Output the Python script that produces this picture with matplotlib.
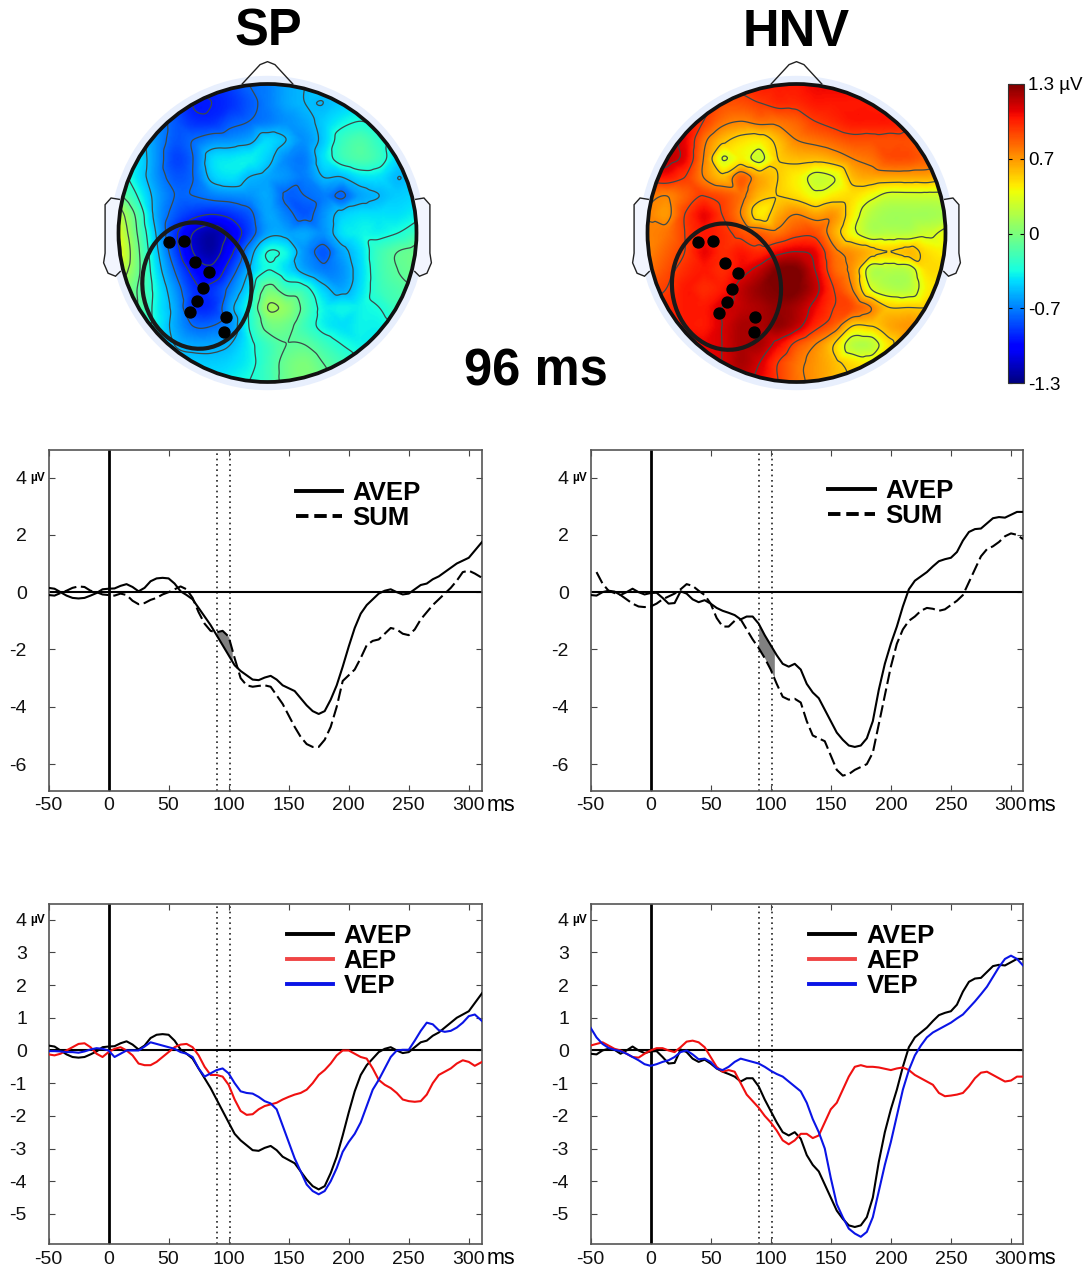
#!/usr/bin/env python3

import numpy as np
import matplotlib
matplotlib.use("Agg")
import matplotlib.pyplot as plt
import matplotlib.tri as mtri
from matplotlib.lines import Line2D
from matplotlib.patches import Circle, Ellipse, Polygon
from matplotlib.cm import ScalarMappable
from matplotlib.colors import Normalize

plt.rcParams["font.family"] = ["Liberation Sans", "DejaVu Sans"]
plt.rcParams["axes.unicode_minus"] = False

W, H = 1091, 1270

# ---- waveforms (uV), 5 ms steps
t_sp = list(range(-50, 310, 5)) + [311]
t_hnv = list(range(-50, 315, 5))

sp_avep = [.15, .12, 0, -.12, -.2, -.22, -.2, -.12, -.03, .1, .12, .13, .22, .28, .18, .03, .15, .38, .48, .5,
           .48, .3, .03, -.1, -.25, -.55, -.85, -1.15, -1.5, -1.85, -2.2, -2.55, -2.75, -2.9, -3.05, -3.07,
           -2.98, -2.92, -3.05, -3.25, -3.35, -3.45, -3.7, -3.95, -4.15, -4.25, -4.15, -3.75, -3.25, -2.6,
           -1.9, -1.25, -.75, -.45, -.25, -.05, .05, .1, 0, -.08, -.05, .1, .25, .3, .45, .55, .7, .85, 1.0,
           1.1, 1.2, 1.45, 1.75]
sp_sum = [-.1, -.12, -.03, .05, .15, .2, .18, .05, 0, -.08, -.1, -.12, -.05, -.1, -.3, -.42, -.38, -.27, -.2,
          -.08, 0, .1, .2, .1, -.2, -.7, -1.1, -1.35, -1.4, -1.35, -1.55, -2.3, -3.0, -3.25, -3.3, -3.27,
          -3.25, -3.3, -3.6, -3.9, -4.3, -4.7, -5.05, -5.3, -5.4, -5.4, -5.15, -4.7, -4.0, -3.1, -2.9, -2.7,
          -2.3, -1.85, -1.7, -1.65, -1.45, -1.25, -1.3, -1.45, -1.5, -1.3, -.95, -.7, -.45, -.25, -.05, .15,
          .4, .7, .75, .65, .5]
sp_aep = [-.12, -.15, -.1, 0, .1, .2, .22, .1, -.1, -.2, -.05, .05, .1, 0, -.15, -.4, -.45, -.45, -.35, -.2,
          -.05, .1, .18, .2, .1, -.15, -.5, -.75, -.75, -.8, -1.05, -1.5, -1.85, -1.97, -1.95, -1.8, -1.7,
          -1.65, -1.6, -1.5, -1.42, -1.35, -1.3, -1.2, -1.0, -.75, -.6, -.4, -.15, 0, 0, -.1, -.2, -.25,
          -.55, -.9, -1.05, -1.15, -1.3, -1.5, -1.55, -1.57, -1.55, -1.35, -1.0, -.75, -.65, -.55, -.4, -.3,
          -.35, -.47, -.35]
sp_vep = [-.02, -.02, -.03, -.05, -.05, -.07, -.03, .03, .07, .05, 0, -.2, -.1, 0, 0, 0, .12, .25, .2, .15,
          .1, .05, -.05, -.1, -.2, -.55, -.8, -.7, -.6, -.55, -.7, -1.0, -1.25, -1.3, -1.32, -1.42, -1.55,
          -1.62, -1.8, -2.3, -2.8, -3.3, -3.7, -4.1, -4.3, -4.4, -4.3, -4.0, -3.6, -3.1, -2.8, -2.55, -2.2,
          -1.7, -1.2, -.9, -.55, -.2, 0, .02, .02, .3, .6, .85, .8, .62, .57, .6, .7, .85, 1.05, 1.1, .9]

hnv_avep = [-.1, -.12, 0, .05, .02, -.1, 0, .12, 0, -.08, -.03, -.02, -.2, -.4, -.38, .03, -.05, -.25, -.35,
            -.28, -.4, -.55, -.65, -.72, -.8, -.95, -.85, -.85, -1.1, -1.5, -1.85, -2.2, -2.5, -2.6, -2.5,
            -2.7, -3.2, -3.5, -3.7, -4.1, -4.5, -4.9, -5.15, -5.35, -5.4, -5.35, -5.1, -4.5, -3.4, -2.5, -1.8,
            -1.2, -.5, .1, .4, .55, .7, .9, 1.08, 1.15, 1.2, 1.4, 1.8, 2.1, 2.2, 2.22, 2.4, 2.58, 2.62, 2.6,
            2.7, 2.8, 2.8]
hnv_sum = [np.nan, .7, .3, .05, -.03, -.1, -.25, -.4, -.5, -.52, -.5, -.4, -.25, -.15, -.05, .1, .28, .22,
           .05, -.1, -.4, -.9, -1.2, -1.2, -1.0, -.95, -1.3, -1.65, -1.95, -2.3, -2.7, -3.2, -3.65, -3.75,
           -3.72, -3.85, -4.5, -5.0, -5.1, -5.2, -5.7, -6.2, -6.4, -6.35, -6.2, -6.1, -6.0, -5.6, -4.6, -3.6,
           -2.6, -1.8, -1.3, -1.0, -.85, -.65, -.55, -.58, -.65, -.6, -.45, -.3, -.1, .35, .8, 1.25, 1.5, 1.6,
           1.75, 1.95, 2.05, 2.0, 1.85]
hnv_aep = [.15, .2, .25, .15, .05, 0, -.1, -.2, -.22, -.1, 0, .07, .07, 0, -.05, .1, .27, .3, .25, .1, -.2,
           -.5, -.65, -.6, -.65, -1.0, -1.35, -1.55, -1.75, -2.0, -2.2, -2.45, -2.75, -2.87, -2.75, -2.55,
           -2.55, -2.68, -2.6, -2.2, -1.8, -1.6, -1.2, -.8, -.5, -.45, -.5, -.5, -.52, -.56, -.6, -.55, -.52,
           -.6, -.75, -.85, -.95, -1.05, -1.3, -1.4, -1.38, -1.35, -1.3, -1.1, -.85, -.68, -.65, -.75, -.85,
           -.95, -.92, -.8, -.8]
hnv_vep = [.7, .4, .2, .08, .02, -.02, -.1, -.2, -.3, -.42, -.47, -.42, -.35, -.3, -.2, -.05, 0, -.12, -.27,
           -.25, -.35, -.55, -.6, -.5, -.35, -.25, -.3, -.35, -.4, -.5, -.62, -.72, -.8, -.95, -1.1, -1.25,
           -1.6, -2.1, -2.5, -3.0, -3.9, -4.7, -5.1, -5.45, -5.6, -5.7, -5.55, -5.1, -4.3, -3.5, -2.8, -2.0,
           -1.2, -.6, -.15, .15, .4, .55, .65, .75, .85, .98, 1.1, 1.3, 1.5, 1.72, 1.95, 2.25, 2.55, 2.8, 2.9,
           2.8, 2.6]

# ---- scalp maps (uV), rows top to bottom, x and y from -1 to 1
topo_sp = np.array([
    [-.5, -.5, -.6, -.7, -.8, -.85, -.8, -.7, -.65, -.55, -.5, -.45, -.45, -.45, -.45, -.45, -.45],
    [-.5, -.55, -.6, -.75, -.9, -.9, -.85, -.75, -.65, -.55, -.5, -.5, -.45, -.42, -.42, -.42, -.42],
    [-.4, -.5, -.6, -.75, -.85, -.85, -.75, -.7, -.65, -.6, -.55, -.45, -.35, -.3, -.35, -.4, -.4],
    [-.35, -.45, -.6, -.75, -.7, -.62, -.6, -.55, -.42, -.5, -.6, -.45, -.22, -.15, -.25, -.4, -.4],
    [-.3, -.4, -.6, -.8, -.7, -.42, -.38, -.36, -.45, -.62, -.65, -.4, -.22, -.15, -.22, -.42, -.4],
    [-.2, -.4, -.6, -.75, -.7, -.46, -.4, -.5, -.55, -.6, -.65, -.5, -.5, -.4, -.4, -.5, -.45],
    [-.05, -.3, -.55, -.7, -.7, -.65, -.62, -.6, -.55, -.72, -.7, -.65, -.72, -.55, -.5, -.45, -.42],
    [.2, -.15, -.55, -.75, -.85, -.9, -.85, -.75, -.55, -.65, -.75, -.6, -.45, -.4, -.4, -.4, -.35],
    [.3, -.1, -.5, -.85, -1.1, -1.2, -1.05, -.8, -.55, -.55, -.55, -.6, -.4, -.35, -.35, -.3, -.2],
    [.35, -.05, -.45, -.8, -1.1, -1.2, -.95, -.6, -.3, -.35, -.6, -.75, -.55, -.4, -.2, -.1, -.05],
    [.25, -.05, -.4, -.7, -.95, -1.05, -.8, -.5, -.3, -.4, -.55, -.65, -.6, -.42, -.2, -.1, -.05],
    [.1, -.1, -.35, -.6, -.85, -.85, -.65, -.4, -.05, -.2, -.25, -.45, -.55, -.4, -.22, -.15, -.1],
    [0, -.1, -.35, -.55, -.85, -.85, -.55, -.3, .1, .05, -.15, -.35, -.35, -.35, -.3, -.2, -.2],
    [-.1, -.2, -.35, -.55, -.7, -.7, -.6, -.3, -.05, -.05, -.2, -.35, -.4, -.35, -.35, -.3, -.3],
    [-.2, -.3, -.4, -.5, -.55, -.55, -.5, -.35, -.2, -.1, -.1, -.2, -.3, -.35, -.35, -.35, -.3],
    [-.3, -.35, -.4, -.45, -.45, -.45, -.42, -.35, -.2, -.05, 0, -.1, -.2, -.3, -.35, -.35, -.3],
    [-.3, -.35, -.4, -.42, -.42, -.4, -.35, -.3, -.2, -.05, 0, -.05, -.15, -.3, -.3, -.3, -.3],
])
topo_hnv = np.array([
    [.95, .95, .95, .95, .95, .95, 1, 1, 1, 1.05, 1.05, 1.05, 1.05, 1.0, .95, .95, .9],
    [.95, 1, 1, .95, .85, .85, .9, .95, .95, 1, 1, 1, 1.0, .95, .95, .9, .9],
    [1.1, 1.1, 1.0, .9, .75, .7, .75, .75, .8, .9, .95, 1, 1, 1, .95, .9, .85],
    [1.15, 1.1, 1.05, .75, .55, .45, .42, .55, .7, .75, .8, .85, .85, .85, .85, .8, .8],
    [1.15, 1.15, 1.05, .7, .3, .4, .25, .5, .55, .55, .6, .7, .75, .85, .85, .8, .75],
    [1.0, 1.0, .9, .7, .55, .8, .6, .5, .4, .25, .3, .55, .6, .6, .6, .6, .55],
    [.75, .7, .8, .9, .85, .75, .55, .5, .45, .35, .42, .45, .35, .25, .25, .25, .25],
    [.7, .65, .9, 1.05, .9, .7, .42, .6, .7, .62, .65, .4, .18, .12, .12, .12, .15],
    [.7, .75, .9, 1.0, .95, .85, .8, .75, .85, .85, .6, .35, .18, .18, .18, .25, .35],
    [.7, .8, .9, 1.05, .95, 1.0, .95, 1.05, 1.1, 1.05, .75, .65, .55, .5, .55, .45, .4],
    [.75, .85, .95, 1.0, .95, 1.05, 1.15, 1.3, 1.3, 1.1, .8, .65, .2, .18, .2, .45, .45],
    [.85, .9, 1.0, .95, 1.0, 1.15, 1.25, 1.3, 1.3, 1.15, .9, .7, .3, .18, .18, .4, .45],
    [.95, .95, 1.0, 1.0, 1.1, 1.15, 1.2, 1.25, 1.2, 1.05, .9, .85, .7, .5, .5, .5, .5],
    [1, 1, 1, 1.0, 1.1, 1.2, 1.2, 1.25, 1.15, .95, .8, .5, .5, .6, .65, .6, .6],
    [1, 1, 1, 1.05, 1.1, 1.2, 1.2, 1.05, .85, .7, .5, .2, .2, .45, .65, .6, .6],
    [1, 1, 1, 1.05, 1.1, 1.2, 1.1, .9, .75, .65, .55, .45, .4, .5, .55, .55, .55],
    [1, 1, 1, 1.05, 1.1, 1.15, 1.05, .9, .75, .65, .55, .5, .5, .5, .55, .55, .55],
])

dots_sp_x = [-.662, -.562, -.485, -.394, -.432, -.47, -.523, -.28, -.289]
dots_sp_y = [-.058, -.054, -.195, -.264, -.371, -.456, -.532, -.562, -.662]
dots_hnv_x = [-.66, -.562, -.483, -.394, -.43, -.468, -.523, -.277, -.286]
dots_hnv_y = [-.06, -.056, -.201, -.271, -.376, -.463, -.537, -.566, -.667]

nose_x = [-.17, -.05, 0, .05, .17]
nose_y = [1.0, 1.13, 1.15, 1.13, 1.0]
ear_x = [-.99, -1.05, -1.09, -1.09, -1.10, -1.07, -1.02, -.985]
ear_y = [.225, .235, .19, -.135, -.2, -.27, -.29, -.255]

cbar_ticks = [-1.3, -.65, 0, .65, 1.3]
cbar_labels = ["-1.3", "-0.7", "0", "0.7", "1.3 µV"]
x_ticks = [-50, 0, 50, 100, 150, 200, 250, 300]
win_start, win_end = 90, 101


def px_axes(fig, left, top, right, bottom):
    return fig.add_axes([left / W, 1 - bottom / H, (right - left) / W, (bottom - top) / H])


def head(fig, cx, cy, z, dots_x, dots_y, ell_xy):
    half = 186
    ax = px_axes(fig, cx - half, cy - half, cx + half, cy + half)
    ax.axis("off")
    ax.patch.set_alpha(0)

    ax.add_patch(Circle((0, 0), 1.055, fc="#e8effd", ec="none", zorder=0))
    for sign in (-1, 1):
        pts = np.column_stack([sign * np.array(ear_x), ear_y])
        ax.add_patch(Polygon(pts, closed=False, fc="#f2f5fe", ec="#222222", lw=1.0, zorder=1))
    ax.plot(nose_x, nose_y, color="#222222", lw=1.0, zorder=1)

    # smooth the coarse grid for the image and the contours
    g = np.linspace(-1, 1, z.shape[0])
    gx, gy = np.meshgrid(g, g[::-1])
    tri = mtri.Triangulation(gx.ravel(), gy.ravel())
    interp = mtri.CubicTriInterpolator(tri, z.ravel(), kind="geom")
    f = np.linspace(-1, 1, 240)
    fx, fy = np.meshgrid(f, f)
    fz = np.ma.filled(interp(fx, fy), np.nan)

    clip = Circle((0, 0), 1.0, transform=ax.transData)
    im = ax.imshow(fz, origin="lower", extent=(-1, 1, -1, 1), cmap="jet", vmin=-1.3, vmax=1.3,
                   interpolation="bilinear", zorder=2)
    im.set_clip_path(clip)
    cs = ax.contour(fx, fy, fz, levels=np.arange(-1.3, 1.3, .2), colors="#3c4a4a", linewidths=.9,
                    linestyles="solid", zorder=3)
    cs.set_clip_path(clip)
    ax.set_xlim(-half / 149, half / 149)
    ax.set_ylim(-half / 149, half / 149)

    ax.add_patch(Circle((0, 0), 1.0, fc="none", ec="#111111", lw=2.7, zorder=4))
    ax.add_patch(Ellipse(ell_xy, .73, .85, angle=8, fc="none", ec="#1a1a1a", lw=3.0, zorder=5))
    ax.scatter(dots_x, dots_y, s=62, color="black", zorder=6)


def erp_panel(fig, box, t, series, ylim, yticks, legend_anchor, legend_items, label_gap, row_gap):
    ax = px_axes(fig, *box)
    ax.set_xlim(-50, t[-1] if t[-1] == 311 else 310)
    ax.set_ylim(*ylim)

    ax.axvline(0, color="black", lw=2.0, zorder=2)
    ax.axhline(0, color="black", lw=1.5, zorder=2)
    for v in (win_start, win_end):
        ax.axvline(v, color="#222222", lw=1.2, ls=(0, (1, 2.2)), zorder=1)
    for y, color, ls in series:
        ax.plot(t, y, color=color, lw=1.5, ls=ls, zorder=3)

    ax.set_xticks(x_ticks)
    ax.set_yticks(yticks)
    ax.tick_params(direction="in", top=True, right=True, length=4, width=.8, color="#444444",
                   labelsize=14, labelcolor="#111111")
    ax.tick_params(axis="x", pad=5)
    ax.tick_params(axis="y", pad=15.5)
    for s in ax.spines.values():
        s.set_color("#555555")
        s.set_linewidth(1.2)

    ax.annotate("ms", xy=(1, 0), xycoords="axes fraction", xytext=(3, -3), textcoords="offset points",
                ha="left", va="top", fontsize=15.5)
    ax.annotate("µV", xy=(0, 4), xycoords=("axes fraction", "data"), xytext=(-2.5, 0),
                textcoords="offset points", ha="right", va="center", fontsize=8.5, fontweight="bold")

    handles = [Line2D([], [], color=c, lw=2.8, ls=ls) for c, ls, _ in legend_items]
    labels = [lab for _, _, lab in legend_items]
    ax.legend(handles, labels, loc="upper left", bbox_to_anchor=legend_anchor, frameon=False,
              prop={"size": 18.5, "weight": "bold"}, handlelength=1.8, handletextpad=label_gap,
              labelspacing=row_gap, borderpad=0, borderaxespad=0)
    return ax


fig = plt.figure(figsize=(W / 100, H / 100), dpi=100)

# scalp maps
head(fig, 267.5, 233, topo_sp, dots_sp_x, dots_sp_y, (-.474, -.353))
head(fig, 796.5, 233, topo_hnv, dots_hnv_x, dots_hnv_y, (-.47, -.36))

fig.text(268 / W, 1 - 32 / H, "SP", fontsize=36.5, fontweight="bold", ha="center", va="center")
fig.text(796 / W, 1 - 32 / H, "HNV", fontsize=36.5, fontweight="bold", ha="center", va="center")
fig.text(536 / W, 1 - 372 / H, "96 ms", fontsize=36.5, fontweight="bold", ha="center", va="center")

# colour bar
cax = px_axes(fig, 1008, 84, 1024, 383)
cb = fig.colorbar(ScalarMappable(Normalize(-1.3, 1.3), "jet"), cax=cax, ticks=cbar_ticks)
cb.ax.set_yticklabels(cbar_labels)
cb.ax.tick_params(direction="in", length=3, width=.8, labelsize=13.5, pad=3, left=True, right=True)
cb.outline.set_edgecolor("#333333")

# waveform panels
top_ylim = (-6.92, 4.96)
low_ylim = (-5.92, 4.48)
top_ticks = [-6, -4, -2, 0, 2, 4]
low_ticks = [-5, -4, -3, -2, -1, 0, 1, 2, 3, 4]
dash = (0, (6, 2.2))
leg_dash = (0, (3.2, 1.5))
sum_items = [("black", "-", "AVEP"), ("black", leg_dash, "SUM")]
tri_items = [("black", "-", "AVEP"), ("#f04545", "-", "AEP"), ("#0a14e6", "-", "VEP")]

ax1 = erp_panel(fig, (48.5, 450, 482, 790.5), t_sp, [(sp_avep, "black", "-"), (sp_sum, "black", dash)],
                top_ylim, top_ticks, (.57, .91), sum_items, .4, .06)
ax2 = erp_panel(fig, (590.5, 450, 1023, 790.5), t_hnv, [(hnv_avep, "black", "-"), (hnv_sum, "black", dash)],
                top_ylim, top_ticks, (.55, .915), sum_items, .4, .06)
ax3 = erp_panel(fig, (48.5, 904, 482, 1244), t_sp,
                [(sp_avep, "black", "-"), (sp_aep, "#f01010", "-"), (sp_vep, "#0a14e6", "-")],
                low_ylim, low_ticks, (.55, .94), tri_items, .4, .03)
ax4 = erp_panel(fig, (590.5, 904, 1023, 1244), t_hnv,
                [(hnv_avep, "black", "-"), (hnv_aep, "#f01010", "-"), (hnv_vep, "#0a14e6", "-")],
                low_ylim, low_ticks, (.505, .94), tri_items, .45, .03)

# grey window between AVEP and SUM
shade_t = np.arange(win_start, 104)
ax1.fill_between(shade_t, np.interp(shade_t, t_sp, sp_avep), np.interp(shade_t, t_sp, sp_sum),
                 color="#808080", lw=0, zorder=2.5)
ax2.fill_between(shade_t, np.interp(shade_t, t_hnv, hnv_avep), np.interp(shade_t, t_hnv, hnv_sum),
                 color="#808080", lw=0, zorder=2.5)

fig.savefig("out.png", dpi=100)
